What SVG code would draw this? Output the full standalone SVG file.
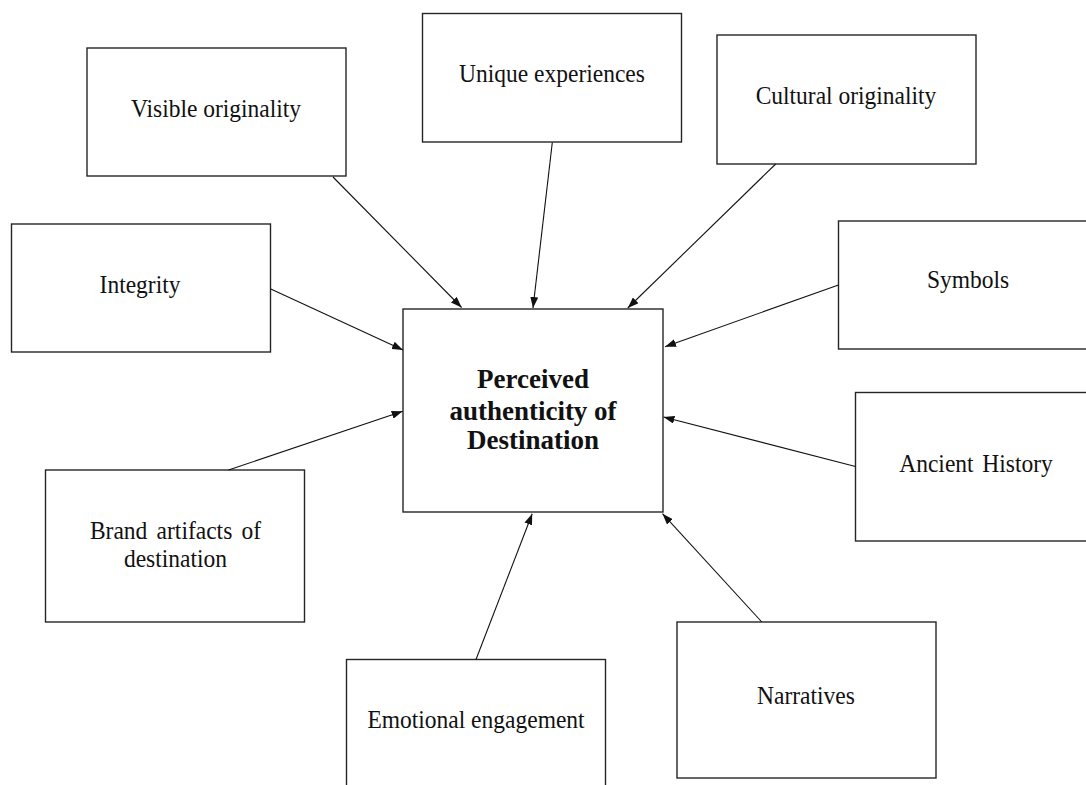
<svg xmlns="http://www.w3.org/2000/svg" width="1086" height="785" viewBox="0 0 1086 785">
<style>
.box{fill:#fff;stroke:#262626;stroke-width:1.4}
.lbl{font-family:"Liberation Serif","Times New Roman",serif;font-size:25px;fill:#111;text-anchor:middle}
.main{font-family:"Liberation Serif","Times New Roman",serif;font-size:27px;font-weight:bold;fill:#111;text-anchor:middle}
.arr{stroke:#111;stroke-width:1.1;fill:none;marker-end:url(#ah)}
</style>
<defs>
<marker id="ah" markerUnits="userSpaceOnUse" markerWidth="11" markerHeight="8" refX="11" refY="4" orient="auto">
<path d="M0,0 L11,4 L0,8 z" fill="#111"/>
</marker>
</defs>
<rect width="1086" height="785" fill="#fff"/>
<g id="center">
<rect class="box" x="403" y="309" width="260" height="203"/>
<text class="main" x="533" y="388">Perceived</text>
<text class="main" x="533" y="420">authenticity of</text>
<text class="main" x="533" y="449">Destination</text>
</g>
<g id="visible-originality">
<rect class="box" x="87" y="48" width="259" height="128"/>
<text class="lbl" transform="translate(216,117) scale(0.94,1)">Visible originality</text>
</g>
<g id="unique-experiences">
<rect class="box" x="422.5" y="13.5" width="259" height="128.5"/>
<text class="lbl" transform="translate(552,82) scale(0.94,1)">Unique experiences</text>
</g>
<g id="cultural-originality">
<rect class="box" x="717" y="35" width="259" height="129"/>
<text class="lbl" transform="translate(846,104) scale(0.94,1)">Cultural originality</text>
</g>
<g id="integrity">
<rect class="box" x="11.5" y="224" width="259" height="128"/>
<text class="lbl" transform="translate(140,293) scale(0.94,1)">Integrity</text>
</g>
<g id="symbols">
<rect class="box" x="838.5" y="221" width="260" height="128"/>
<text class="lbl" transform="translate(968,288) scale(0.94,1)">Symbols</text>
</g>
<g id="ancient-history">
<rect class="box" x="855.5" y="392.5" width="260" height="148.5"/>
<text class="lbl" transform="translate(976,472) scale(0.94,1)" style="word-spacing:3px">Ancient History</text>
</g>
<g id="brand-artifacts">
<rect class="box" x="45.5" y="470" width="259" height="152"/>
<text class="lbl" transform="translate(175.5,539) scale(0.96,1)" style="font-size:24.5px;word-spacing:3.5px">Brand artifacts of</text>
<text class="lbl" transform="translate(175.5,567) scale(0.96,1)" style="font-size:24.5px">destination</text>
</g>
<g id="emotional-engagement">
<rect class="box" x="346.5" y="659.5" width="259" height="140"/>
<text class="lbl" transform="translate(476,728) scale(0.94,1)">Emotional engagement</text>
</g>
<g id="narratives">
<rect class="box" x="677" y="622" width="259" height="156"/>
<text class="lbl" transform="translate(806,704) scale(0.94,1)">Narratives</text>
</g>
<g id="connectors">
<line class="arr" x1="333" y1="177" x2="461.6" y2="307.5"/>
<line class="arr" x1="552.3" y1="142.5" x2="533" y2="308"/>
<line class="arr" x1="775.7" y1="164" x2="627.8" y2="308"/>
<line class="arr" x1="270.8" y1="289" x2="403" y2="350"/>
<line class="arr" x1="838.5" y1="285" x2="665" y2="346.7"/>
<line class="arr" x1="228.5" y1="470" x2="402.7" y2="411.3"/>
<line class="arr" x1="855.5" y1="466.5" x2="663.5" y2="417"/>
<line class="arr" x1="476" y1="659.5" x2="532.2" y2="513.7"/>
<line class="arr" x1="761.8" y1="622" x2="662.5" y2="513.7"/>
</g>
</svg>
